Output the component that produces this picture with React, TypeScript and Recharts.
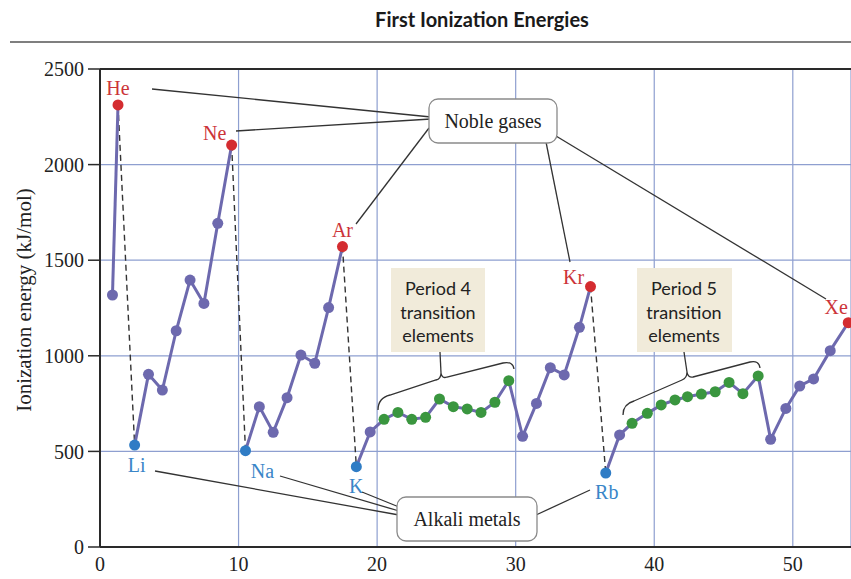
import React from "react";
import { LineChart, Line, XAxis, YAxis, CartesianGrid, ReferenceLine } from "recharts";

// values
const elements = [
  "H", "He", "Li", "Be", "B", "C", "N", "O", "F", "Ne",
  "Na", "Mg", "Al", "Si", "P", "S", "Cl", "Ar",
  "K", "Ca", "Sc", "Ti", "V", "Cr", "Mn", "Fe", "Co", "Ni", "Cu", "Zn", "Ga", "Ge", "As", "Se", "Br", "Kr",
  "Rb", "Sr", "Y", "Zr", "Nb", "Mo", "Tc", "Ru", "Rh", "Pd", "Ag", "Cd", "In", "Sn", "Sb", "Te", "I", "Xe",
];

const xPositions = [
  0.9, 1.3, 2.5, 3.5, 4.5, 5.5, 6.5, 7.5, 8.5, 9.5,
  10.5, 11.5, 12.5, 13.5, 14.5, 15.5, 16.5, 17.5,
  18.5, 19.5, 20.5, 21.5, 22.5, 23.5, 24.5, 25.5, 26.5, 27.5, 28.5, 29.5, 30.5, 31.5, 32.5, 33.5, 34.6, 35.4,
  36.5, 37.5, 38.4, 39.5, 40.5, 41.5, 42.4, 43.4, 44.4, 45.4, 46.4, 47.5, 48.4, 49.5, 50.5, 51.5, 52.7, 54.0,
];

const energies = [
  1318, 2312, 533, 903, 821, 1131, 1396, 1274, 1693, 2102,
  504, 734, 600, 781, 1004, 961, 1252, 1571,
  420, 602, 668, 704, 668, 678, 774, 734, 722, 704, 757, 870, 579, 751, 938, 900, 1149, 1362,
  387, 586, 647, 699, 743, 769, 786, 800, 812, 861, 802, 895, 563, 725, 842, 879, 1027, 1173,
];

const periodStarts = ["H", "Li", "Na", "K", "Rb"];
const nobleGases = ["He", "Ne", "Ar", "Kr", "Xe"];
const alkaliMetals = ["Li", "Na", "K", "Rb"];
const transitionElements = [
  "Sc", "Ti", "V", "Cr", "Mn", "Fe", "Co", "Ni", "Cu", "Zn",
  "Y", "Zr", "Nb", "Mo", "Tc", "Ru", "Rh", "Pd", "Ag", "Cd",
];
const dropPairs = [["He", "Li"], ["Ne", "Na"], ["Ar", "K"], ["Kr", "Rb"]];

const xTicks = [0, 10, 20, 30, 40, 50];
const yTicks = [0, 500, 1000, 1500, 2000, 2500];

// where each element label sits relative to its dot (px)
const labelOffsets: Record<string, [number, number]> = {
  He: [0, -17], Ne: [-17, -12], Ar: [0, -17], Kr: [-17, -10], Xe: [-12, -16],
  Li: [2, 20], Na: [17, 20], K: [0, 19], Rb: [1, 19],
};

const SERIF = "'Liberation Serif', 'DejaVu Serif', serif";
const SANS = "Lato, 'Open Sans', sans-serif";
const PURPLE = "#6d69ae";
const RED = "#d42c30";
const BLUE = "#2f7cc5";
const GREEN = "#3a963f";
const GRID = "#8e9fd0";

const points = elements.map((el, i) => ({ el, x: xPositions[i], y: energies[i] }));

// split the series into one run per period
const periods: typeof points[] = [];
points.forEach((p) => {
  if (periodStarts.includes(p.el) || periods.length === 0) periods.push([]);
  periods[periods.length - 1].push(p);
});

const dotColor = (el: string) => {
  if (nobleGases.includes(el)) return RED;
  if (alkaliMetals.includes(el)) return BLUE;
  if (transitionElements.includes(el)) return GREEN;
  return PURPLE;
};

const renderDot = (props: any) => {
  const { cx, cy, payload, index } = props;
  const el = payload.el;
  const off = labelOffsets[el];
  const labelColor = nobleGases.includes(el) ? "#cc3439" : "#3a86c8";
  return (
    <g key={`dot-${el}-${index}`}>
      <circle cx={cx} cy={cy} r={5.5} fill={dotColor(el)} />
      {off && (
        <text
          x={cx + off[0]}
          y={cy + off[1]}
          textAnchor="middle"
          dominantBaseline="central"
          fontFamily={SERIF}
          fontSize={20}
          fill={labelColor}
        >
          {el}
        </text>
      )}
    </g>
  );
};

// callout boxes, braces and leader lines drawn over the chart
const Annotations = () => (
  <svg
    width={851}
    height={579}
    style={{ position: "absolute", left: 0, top: 0, pointerEvents: "none" }}
  >
    <text x={482} y={19} textAnchor="middle" dominantBaseline="central" fontFamily={SANS} fontWeight={700} fontSize={20} fill="#1a1a1a">
      First Ionization Energies
    </text>
    <line x1={10} y1={42} x2={851} y2={42} stroke="#555" strokeWidth={1.5} />
    <text
      transform="translate(24,300) rotate(-90)"
      textAnchor="middle"
      dominantBaseline="central"
      fontFamily={SERIF}
      fontSize={21}
      fill="#222"
    >
      Ionization energy (kJ/mol)
    </text>

    <g stroke="#333" strokeWidth={1.3} fill="none">
      {/* noble gas leaders */}
      <line x1={152} y1={89} x2={431} y2={117} />
      <line x1={236} y1={131} x2={431} y2={119} />
      <line x1={356} y1={224} x2={429} y2={128} />
      <line x1={570} y1={262} x2={546} y2={142} />
      <line x1={826} y1={299} x2={556} y2={136} />
      {/* alkali leaders */}
      <line x1={155} y1={471} x2={399} y2={515} />
      <line x1={280} y1={476} x2={399} y2={511} />
      <line x1={362} y1={492} x2={399} y2={507} />
      <line x1={590} y1={490} x2={536} y2={515} />
      {/* braces */}
      <path d="M378,410 Q378,398 390,395 L436,380 Q441,379 441,373 Q442,379 447,377 L503,363 Q513,361 514,369" />
      <line x1={440} y1={352} x2={441} y2={373} />
      <path d="M623,415 Q623,404 634,401 L682,380 Q687,378 687,372 Q688,378 693,377 L750,362 Q759,360 760,368" />
      <line x1={684} y1={352} x2={687} y2={372} />
    </g>

    <rect x={429} y={99} width={128} height={44} rx={9} fill="#fff" stroke="#8a8a8a" strokeWidth={1.3} />
    <text x={493} y={121} textAnchor="middle" dominantBaseline="central" fontFamily={SERIF} fontSize={20} fill="#222">
      Noble gases
    </text>

    <rect x={397} y={497} width={140} height={44} rx={9} fill="#fff" stroke="#8a8a8a" strokeWidth={1.3} />
    <text x={467} y={519} textAnchor="middle" dominantBaseline="central" fontFamily={SERIF} fontSize={20} fill="#222">
      Alkali metals
    </text>

    <rect x={391} y={268} width={94} height={84} fill="#f1ebda" />
    <text textAnchor="middle" fontFamily={SANS} fontSize={18} fill="#222">
      <tspan x={438} y={295}>Period 4</tspan>
      <tspan x={438} y={319}>transition</tspan>
      <tspan x={438} y={342}>elements</tspan>
    </text>

    <rect x={637} y={268} width={95} height={84} fill="#f1ebda" />
    <text textAnchor="middle" fontFamily={SANS} fontSize={18} fill="#222">
      <tspan x={684} y={295}>Period 5</tspan>
      <tspan x={684} y={319}>transition</tspan>
      <tspan x={684} y={342}>elements</tspan>
    </text>
  </svg>
);

export default function App() {
  return (
    <div style={{ position: "absolute", left: 0, top: 0, width: 851, height: 579, background: "#fff" }}>
      <LineChart width={851} height={579} margin={{ top: 69, right: 0, bottom: 0, left: 0 }}>
        <CartesianGrid stroke={GRID} strokeWidth={1.2} />
        <XAxis
          type="number"
          dataKey="x"
          domain={[0, 54.2]}
          ticks={xTicks}
          allowDataOverflow
          height={32}
          tickSize={0}
          tickMargin={10}
          axisLine={{ stroke: "#2a2a2a", strokeWidth: 2 }}
          tick={{ fill: "#222", fontSize: 20, fontFamily: SERIF }}
        />
        <YAxis
          type="number"
          dataKey="y"
          domain={[0, 2500]}
          ticks={yTicks}
          width={100}
          tickSize={12}
          tickMargin={4}
          axisLine={{ stroke: "#2a2a2a", strokeWidth: 2 }}
          tickLine={{ stroke: "#2a2a2a", strokeWidth: 1.5 }}
          tick={{ fill: "#222", fontSize: 20, fontFamily: SERIF }}
        />
        <ReferenceLine y={2500} stroke="#2a2a2a" strokeWidth={2} />
        {dropPairs.map(([from, to]) => (
          <Line
            key={`drop-${from}`}
            data={points.filter((p) => p.el === from || p.el === to)}
            dataKey="y"
            stroke="#333"
            strokeWidth={1.4}
            strokeDasharray="6 4"
            dot={false}
            activeDot={false}
            isAnimationActive={false}
          />
        ))}
        {periods.map((run) => (
          <Line
            key={`period-${run[0].el}`}
            data={run}
            dataKey="y"
            stroke={PURPLE}
            strokeWidth={3}
            dot={renderDot}
            activeDot={false}
            isAnimationActive={false}
          />
        ))}
      </LineChart>
      <Annotations />
    </div>
  );
}
